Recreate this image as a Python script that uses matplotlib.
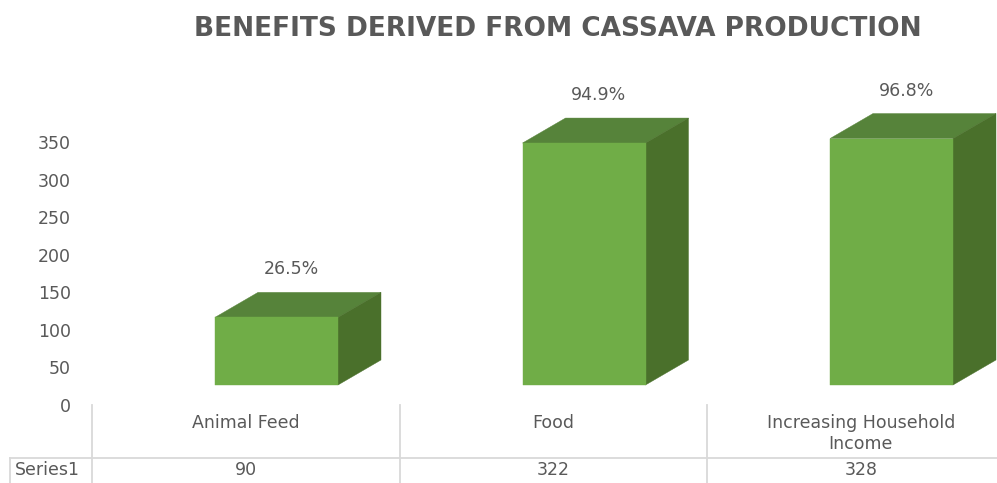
import matplotlib
matplotlib.use('Agg')
import matplotlib.pyplot as plt
from matplotlib.patches import Polygon
from matplotlib.transforms import ScaledTranslation, Affine2D, blended_transform_factory

# ---------------- data ----------------
categories = ['Animal Feed', 'Food', 'Increasing Household\nIncome']
values = [90, 322, 328]
pct_labels = ['26.5%', '94.9%', '96.8%']
series_name = 'Series1'
yticks = [0, 50, 100, 150, 200, 250, 300, 350]
title = 'BENEFITS DERIVED FROM CASSAVA PRODUCTION'

# ---------------- style ----------------
W, H, DPI = 997, 483, 100
FONT = 'DejaVu Sans'
FS = 12.5
TXT = '#595959'
GRID = '#D9D9D9'
C_FRONT = '#70AD47'
C_TOP = '#56833A'
C_SIDE = '#4A702B'

fig = plt.figure(figsize=(W / DPI, H / DPI), dpi=DPI)
fig.patch.set_facecolor('white')

# axes placed in pixel terms
col_w = 307.5
x_left = 92
x_right = x_left + 3 * col_w
y0_px, ytop_px = 405, 142
ax = fig.add_axes([x_left / W, (H - y0_px) / H, (x_right - x_left) / W, (y0_px - ytop_px) / H])
ax.set_xlim(-0.5, 2.5)
ax.set_ylim(0, 350)
for s in ax.spines.values():
    s.set_visible(False)
ax.set_xticks([])
ax.set_yticks(yticks)
ax.set_yticklabels([str(t) for t in yticks], fontsize=FS, color=TXT, family=FONT)
ax.tick_params(axis='y', length=0, pad=15)
ax.patch.set_alpha(0)

# pixel transform (top-left origin)
pix = Affine2D().scale(1 / W, -1 / H).translate(0, 1) + fig.transFigure
xdata_ypix = blended_transform_factory(ax.transData, pix)

# 3D-ish bars
px_per_y = (y0_px - ytop_px) / 350.0
dx = 43 / col_w
dy = 25 / px_per_y
bw = 0.4
shift = 0.1
bar_tr = ax.transData + ScaledTranslation(0, 20 / DPI, fig.dpi_scale_trans)

bars = ax.bar([i + shift for i in range(len(values))], values, width=bw,
              color=C_FRONT, transform=bar_tr, clip_on=False, zorder=3,
              edgecolor=C_FRONT, linewidth=0.3)
for i, v in enumerate(values):
    x0 = i + shift - bw / 2
    x1 = i + shift + bw / 2
    top = Polygon([(x0, v), (x1, v), (x1 + dx, v + dy), (x0 + dx, v + dy)],
                  closed=True, facecolor=C_TOP, edgecolor=C_TOP, linewidth=0.3,
                  transform=bar_tr, clip_on=False, zorder=2)
    side = Polygon([(x1, 0), (x1 + dx, dy), (x1 + dx, v + dy), (x1, v)],
                   closed=True, facecolor=C_SIDE, edgecolor=C_SIDE, linewidth=0.3,
                   transform=bar_tr, clip_on=False, zorder=2)
    ax.add_patch(top)
    ax.add_patch(side)
    lab_tr = bar_tr + ScaledTranslation(15 / DPI, 48 / DPI, fig.dpi_scale_trans)
    ax.text(i + shift, v, pct_labels[i], transform=lab_tr, ha='center', va='center',
            fontsize=FS, color=TXT, family=FONT, clip_on=False)

# data table
lw = 1.3
for i in range(len(categories) + 1):
    ax.plot([i - 0.5, i - 0.5], [405, 483], transform=xdata_ypix, color=GRID,
            lw=lw, clip_on=False)
ax.plot([10, W], [458, 458], transform=pix, color=GRID, lw=lw, clip_on=False)
ax.plot([10, 10], [458, 483], transform=pix, color=GRID, lw=lw, clip_on=False)

for i, c in enumerate(categories):
    ax.text(i, 414, c, transform=xdata_ypix, ha='center', va='top', fontsize=FS,
            color=TXT, family=FONT, linespacing=1.22, clip_on=False)
    ax.text(i, 470, str(values[i]), transform=xdata_ypix, ha='center', va='center',
            fontsize=FS, color=TXT, family=FONT, clip_on=False)
fig.text(47 / W, 1 - 470 / H, series_name, ha='center', va='center', fontsize=FS,
         color=TXT, family=FONT)

# title
fig.text(557.5 / W, 1 - 28.5 / H, title, ha='center', va='center', fontsize=19,
         fontweight='bold', color=TXT, family=FONT)

fig.savefig('out.png', dpi=DPI, facecolor='white')
